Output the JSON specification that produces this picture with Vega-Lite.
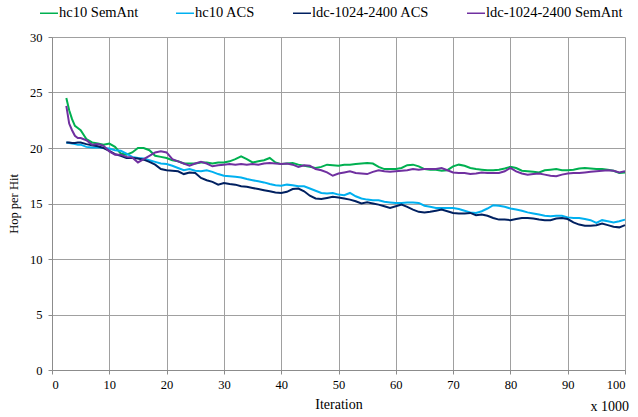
{
  "$schema": "https://vega.github.io/schema/vega-lite/v6.json",
  "width": 573,
  "height": 333,
  "autosize": {"type": "none"},
  "padding": {"left": 52, "top": 37, "right": 13, "bottom": 47},
  "background": "white",
  "config": {
    "font": "Liberation Serif",
    "view": {"stroke": null},
    "title": {"font": "Liberation Serif", "fontWeight": "normal", "fontSize": 14, "color": "black"}
  },
  "title": {"text": "x 1000", "orient": "bottom", "anchor": "end", "offset": -12, "font": "Liberation Serif", "fontSize": 14, "fontWeight": "normal", "color": "black"},
  "data": {
    "values": [
      {"Iteration": 2.5, "hc10 SemAnt": 24.5, "hc10 ACS": 20.5, "ldc-1024-2400 ACS": 20.5, "ldc-1024-2400 SemAnt": 23.8},
      {"Iteration": 3, "hc10 SemAnt": 23.4, "hc10 ACS": 20.45, "ldc-1024-2400 ACS": 20.5, "ldc-1024-2400 SemAnt": 22.2},
      {"Iteration": 3.5, "hc10 SemAnt": 22.6, "hc10 ACS": 20.4, "ldc-1024-2400 ACS": 20.45, "ldc-1024-2400 SemAnt": 21.6},
      {"Iteration": 4, "hc10 SemAnt": 22.0, "hc10 ACS": 20.35, "ldc-1024-2400 ACS": 20.45, "ldc-1024-2400 SemAnt": 21.1},
      {"Iteration": 4.5, "hc10 SemAnt": 21.8, "hc10 ACS": 20.3, "ldc-1024-2400 ACS": 20.5, "ldc-1024-2400 SemAnt": 20.9},
      {"Iteration": 5, "hc10 SemAnt": 21.6, "hc10 ACS": 20.3, "ldc-1024-2400 ACS": 20.5, "ldc-1024-2400 SemAnt": 20.9},
      {"Iteration": 6, "hc10 SemAnt": 20.8, "hc10 ACS": 20.1, "ldc-1024-2400 ACS": 20.35, "ldc-1024-2400 SemAnt": 20.7},
      {"Iteration": 7, "hc10 SemAnt": 20.5, "hc10 ACS": 20.05, "ldc-1024-2400 ACS": 20.25, "ldc-1024-2400 SemAnt": 20.3},
      {"Iteration": 8, "hc10 SemAnt": 20.4, "hc10 ACS": 20.05, "ldc-1024-2400 ACS": 20.15, "ldc-1024-2400 SemAnt": 20.35},
      {"Iteration": 9, "hc10 SemAnt": 20.3, "hc10 ACS": 20.0, "ldc-1024-2400 ACS": 20.0, "ldc-1024-2400 SemAnt": 20.2},
      {"Iteration": 10, "hc10 SemAnt": 20.4, "hc10 ACS": 19.95, "ldc-1024-2400 ACS": 19.75, "ldc-1024-2400 SemAnt": 19.7},
      {"Iteration": 11, "hc10 SemAnt": 20.1, "hc10 ACS": 19.8, "ldc-1024-2400 ACS": 19.45, "ldc-1024-2400 SemAnt": 19.4},
      {"Iteration": 12, "hc10 SemAnt": 19.5, "hc10 ACS": 19.75, "ldc-1024-2400 ACS": 19.3, "ldc-1024-2400 SemAnt": 19.4},
      {"Iteration": 13, "hc10 SemAnt": 19.4, "hc10 ACS": 19.5, "ldc-1024-2400 ACS": 19.1, "ldc-1024-2400 SemAnt": 19.2},
      {"Iteration": 14, "hc10 SemAnt": 19.6, "hc10 ACS": 19.2, "ldc-1024-2400 ACS": 19.1, "ldc-1024-2400 SemAnt": 19.15},
      {"Iteration": 15, "hc10 SemAnt": 20.0, "hc10 ACS": 19.1, "ldc-1024-2400 ACS": 19.05, "ldc-1024-2400 SemAnt": 18.7},
      {"Iteration": 16, "hc10 SemAnt": 20.0, "hc10 ACS": 19.05, "ldc-1024-2400 ACS": 18.95, "ldc-1024-2400 SemAnt": 19.0},
      {"Iteration": 17, "hc10 SemAnt": 19.8, "hc10 ACS": 18.9, "ldc-1024-2400 ACS": 18.75, "ldc-1024-2400 SemAnt": 19.3},
      {"Iteration": 18, "hc10 SemAnt": 19.3, "hc10 ACS": 18.75, "ldc-1024-2400 ACS": 18.5, "ldc-1024-2400 SemAnt": 19.6},
      {"Iteration": 19, "hc10 SemAnt": 19.2, "hc10 ACS": 18.6, "ldc-1024-2400 ACS": 18.1, "ldc-1024-2400 SemAnt": 19.7},
      {"Iteration": 20, "hc10 SemAnt": 19.1, "hc10 ACS": 18.55, "ldc-1024-2400 ACS": 18.0, "ldc-1024-2400 SemAnt": 19.6},
      {"Iteration": 21, "hc10 SemAnt": 18.9, "hc10 ACS": 18.4, "ldc-1024-2400 ACS": 17.95, "ldc-1024-2400 SemAnt": 19.0},
      {"Iteration": 22, "hc10 SemAnt": 18.8, "hc10 ACS": 18.2, "ldc-1024-2400 ACS": 17.9, "ldc-1024-2400 SemAnt": 18.8},
      {"Iteration": 23, "hc10 SemAnt": 18.6, "hc10 ACS": 18.0, "ldc-1024-2400 ACS": 17.65, "ldc-1024-2400 SemAnt": 18.6},
      {"Iteration": 24, "hc10 SemAnt": 18.6, "hc10 ACS": 18.1, "ldc-1024-2400 ACS": 17.8, "ldc-1024-2400 SemAnt": 18.4},
      {"Iteration": 25, "hc10 SemAnt": 18.6, "hc10 ACS": 17.95, "ldc-1024-2400 ACS": 17.75, "ldc-1024-2400 SemAnt": 18.6},
      {"Iteration": 26, "hc10 SemAnt": 18.7, "hc10 ACS": 17.9, "ldc-1024-2400 ACS": 17.3, "ldc-1024-2400 SemAnt": 18.75},
      {"Iteration": 27, "hc10 SemAnt": 18.7, "hc10 ACS": 18.0, "ldc-1024-2400 ACS": 17.1, "ldc-1024-2400 SemAnt": 18.6},
      {"Iteration": 28, "hc10 SemAnt": 18.6, "hc10 ACS": 17.85, "ldc-1024-2400 ACS": 16.95, "ldc-1024-2400 SemAnt": 18.35},
      {"Iteration": 29, "hc10 SemAnt": 18.7, "hc10 ACS": 17.65, "ldc-1024-2400 ACS": 16.7, "ldc-1024-2400 SemAnt": 18.45},
      {"Iteration": 30, "hc10 SemAnt": 18.7, "hc10 ACS": 17.5, "ldc-1024-2400 ACS": 16.85, "ldc-1024-2400 SemAnt": 18.5},
      {"Iteration": 31, "hc10 SemAnt": 18.8, "hc10 ACS": 17.45, "ldc-1024-2400 ACS": 16.75, "ldc-1024-2400 SemAnt": 18.55},
      {"Iteration": 32, "hc10 SemAnt": 19.0, "hc10 ACS": 17.4, "ldc-1024-2400 ACS": 16.7, "ldc-1024-2400 SemAnt": 18.5},
      {"Iteration": 33, "hc10 SemAnt": 19.25, "hc10 ACS": 17.35, "ldc-1024-2400 ACS": 16.55, "ldc-1024-2400 SemAnt": 18.55},
      {"Iteration": 34, "hc10 SemAnt": 19.0, "hc10 ACS": 17.2, "ldc-1024-2400 ACS": 16.5, "ldc-1024-2400 SemAnt": 18.5},
      {"Iteration": 35, "hc10 SemAnt": 18.7, "hc10 ACS": 17.1, "ldc-1024-2400 ACS": 16.4, "ldc-1024-2400 SemAnt": 18.55},
      {"Iteration": 36, "hc10 SemAnt": 18.8, "hc10 ACS": 17.0, "ldc-1024-2400 ACS": 16.3, "ldc-1024-2400 SemAnt": 18.5},
      {"Iteration": 37, "hc10 SemAnt": 18.9, "hc10 ACS": 16.9, "ldc-1024-2400 ACS": 16.2, "ldc-1024-2400 SemAnt": 18.6},
      {"Iteration": 38, "hc10 SemAnt": 19.1, "hc10 ACS": 16.75, "ldc-1024-2400 ACS": 16.1, "ldc-1024-2400 SemAnt": 18.65},
      {"Iteration": 39, "hc10 SemAnt": 18.7, "hc10 ACS": 16.65, "ldc-1024-2400 ACS": 16.0, "ldc-1024-2400 SemAnt": 18.6},
      {"Iteration": 40, "hc10 SemAnt": 18.55, "hc10 ACS": 16.6, "ldc-1024-2400 ACS": 15.95, "ldc-1024-2400 SemAnt": 18.55},
      {"Iteration": 41, "hc10 SemAnt": 18.6, "hc10 ACS": 16.7, "ldc-1024-2400 ACS": 16.05, "ldc-1024-2400 SemAnt": 18.6},
      {"Iteration": 42, "hc10 SemAnt": 18.65, "hc10 ACS": 16.65, "ldc-1024-2400 ACS": 16.3, "ldc-1024-2400 SemAnt": 18.5},
      {"Iteration": 43, "hc10 SemAnt": 18.5, "hc10 ACS": 16.55, "ldc-1024-2400 ACS": 16.35, "ldc-1024-2400 SemAnt": 18.3},
      {"Iteration": 44, "hc10 SemAnt": 18.4, "hc10 ACS": 16.55, "ldc-1024-2400 ACS": 16.1, "ldc-1024-2400 SemAnt": 18.45},
      {"Iteration": 45, "hc10 SemAnt": 18.3, "hc10 ACS": 16.35, "ldc-1024-2400 ACS": 15.7, "ldc-1024-2400 SemAnt": 18.4},
      {"Iteration": 46, "hc10 SemAnt": 18.2, "hc10 ACS": 16.15, "ldc-1024-2400 ACS": 15.45, "ldc-1024-2400 SemAnt": 18.1},
      {"Iteration": 47, "hc10 SemAnt": 18.3, "hc10 ACS": 15.95, "ldc-1024-2400 ACS": 15.4, "ldc-1024-2400 SemAnt": 18.0},
      {"Iteration": 48, "hc10 SemAnt": 18.5, "hc10 ACS": 15.9, "ldc-1024-2400 ACS": 15.5, "ldc-1024-2400 SemAnt": 17.8},
      {"Iteration": 49, "hc10 SemAnt": 18.45, "hc10 ACS": 15.95, "ldc-1024-2400 ACS": 15.6, "ldc-1024-2400 SemAnt": 17.5},
      {"Iteration": 50, "hc10 SemAnt": 18.4, "hc10 ACS": 15.8, "ldc-1024-2400 ACS": 15.55, "ldc-1024-2400 SemAnt": 17.7},
      {"Iteration": 51, "hc10 SemAnt": 18.5, "hc10 ACS": 15.75, "ldc-1024-2400 ACS": 15.45, "ldc-1024-2400 SemAnt": 17.8},
      {"Iteration": 52, "hc10 SemAnt": 18.5, "hc10 ACS": 15.95, "ldc-1024-2400 ACS": 15.35, "ldc-1024-2400 SemAnt": 17.9},
      {"Iteration": 53, "hc10 SemAnt": 18.55, "hc10 ACS": 15.65, "ldc-1024-2400 ACS": 15.2, "ldc-1024-2400 SemAnt": 17.75},
      {"Iteration": 54, "hc10 SemAnt": 18.6, "hc10 ACS": 15.45, "ldc-1024-2400 ACS": 15.0, "ldc-1024-2400 SemAnt": 17.7},
      {"Iteration": 55, "hc10 SemAnt": 18.65, "hc10 ACS": 15.35, "ldc-1024-2400 ACS": 15.1, "ldc-1024-2400 SemAnt": 17.65},
      {"Iteration": 56, "hc10 SemAnt": 18.6, "hc10 ACS": 15.3, "ldc-1024-2400 ACS": 15.0, "ldc-1024-2400 SemAnt": 17.85},
      {"Iteration": 57, "hc10 SemAnt": 18.3, "hc10 ACS": 15.3, "ldc-1024-2400 ACS": 14.9, "ldc-1024-2400 SemAnt": 18.0},
      {"Iteration": 58, "hc10 SemAnt": 18.1, "hc10 ACS": 15.15, "ldc-1024-2400 ACS": 14.75, "ldc-1024-2400 SemAnt": 17.9},
      {"Iteration": 59, "hc10 SemAnt": 18.1, "hc10 ACS": 15.1, "ldc-1024-2400 ACS": 14.6, "ldc-1024-2400 SemAnt": 17.85},
      {"Iteration": 60, "hc10 SemAnt": 18.1, "hc10 ACS": 15.05, "ldc-1024-2400 ACS": 14.75, "ldc-1024-2400 SemAnt": 17.9},
      {"Iteration": 61, "hc10 SemAnt": 18.2, "hc10 ACS": 15.05, "ldc-1024-2400 ACS": 14.9, "ldc-1024-2400 SemAnt": 17.95},
      {"Iteration": 62, "hc10 SemAnt": 18.45, "hc10 ACS": 15.1, "ldc-1024-2400 ACS": 14.7, "ldc-1024-2400 SemAnt": 18.0},
      {"Iteration": 63, "hc10 SemAnt": 18.5, "hc10 ACS": 15.1, "ldc-1024-2400 ACS": 14.45, "ldc-1024-2400 SemAnt": 18.1},
      {"Iteration": 64, "hc10 SemAnt": 18.35, "hc10 ACS": 15.05, "ldc-1024-2400 ACS": 14.25, "ldc-1024-2400 SemAnt": 18.05},
      {"Iteration": 65, "hc10 SemAnt": 18.1, "hc10 ACS": 14.8, "ldc-1024-2400 ACS": 14.2, "ldc-1024-2400 SemAnt": 18.1},
      {"Iteration": 66, "hc10 SemAnt": 18.05, "hc10 ACS": 14.7, "ldc-1024-2400 ACS": 14.25, "ldc-1024-2400 SemAnt": 18.1},
      {"Iteration": 67, "hc10 SemAnt": 18.05, "hc10 ACS": 14.6, "ldc-1024-2400 ACS": 14.35, "ldc-1024-2400 SemAnt": 18.1},
      {"Iteration": 68, "hc10 SemAnt": 17.95, "hc10 ACS": 14.6, "ldc-1024-2400 ACS": 14.45, "ldc-1024-2400 SemAnt": 18.2},
      {"Iteration": 69, "hc10 SemAnt": 18.0, "hc10 ACS": 14.6, "ldc-1024-2400 ACS": 14.3, "ldc-1024-2400 SemAnt": 18.0},
      {"Iteration": 70, "hc10 SemAnt": 18.35, "hc10 ACS": 14.6, "ldc-1024-2400 ACS": 14.15, "ldc-1024-2400 SemAnt": 17.8},
      {"Iteration": 71, "hc10 SemAnt": 18.5, "hc10 ACS": 14.5, "ldc-1024-2400 ACS": 14.1, "ldc-1024-2400 SemAnt": 17.75},
      {"Iteration": 72, "hc10 SemAnt": 18.4, "hc10 ACS": 14.35, "ldc-1024-2400 ACS": 14.1, "ldc-1024-2400 SemAnt": 17.75},
      {"Iteration": 73, "hc10 SemAnt": 18.2, "hc10 ACS": 14.2, "ldc-1024-2400 ACS": 14.15, "ldc-1024-2400 SemAnt": 17.65},
      {"Iteration": 74, "hc10 SemAnt": 18.1, "hc10 ACS": 14.15, "ldc-1024-2400 ACS": 13.95, "ldc-1024-2400 SemAnt": 17.7},
      {"Iteration": 75, "hc10 SemAnt": 18.05, "hc10 ACS": 14.3, "ldc-1024-2400 ACS": 14.0, "ldc-1024-2400 SemAnt": 17.8},
      {"Iteration": 76, "hc10 SemAnt": 18.0, "hc10 ACS": 14.55, "ldc-1024-2400 ACS": 13.9, "ldc-1024-2400 SemAnt": 17.75},
      {"Iteration": 77, "hc10 SemAnt": 18.0, "hc10 ACS": 14.85, "ldc-1024-2400 ACS": 13.7, "ldc-1024-2400 SemAnt": 17.75},
      {"Iteration": 78, "hc10 SemAnt": 18.05, "hc10 ACS": 14.8, "ldc-1024-2400 ACS": 13.55, "ldc-1024-2400 SemAnt": 17.75},
      {"Iteration": 79, "hc10 SemAnt": 18.15, "hc10 ACS": 14.7, "ldc-1024-2400 ACS": 13.55, "ldc-1024-2400 SemAnt": 17.9},
      {"Iteration": 80, "hc10 SemAnt": 18.3, "hc10 ACS": 14.55, "ldc-1024-2400 ACS": 13.5, "ldc-1024-2400 SemAnt": 18.2},
      {"Iteration": 81, "hc10 SemAnt": 18.2, "hc10 ACS": 14.45, "ldc-1024-2400 ACS": 13.6, "ldc-1024-2400 SemAnt": 17.9},
      {"Iteration": 82, "hc10 SemAnt": 17.95, "hc10 ACS": 14.35, "ldc-1024-2400 ACS": 13.7, "ldc-1024-2400 SemAnt": 17.7},
      {"Iteration": 83, "hc10 SemAnt": 17.9, "hc10 ACS": 14.2, "ldc-1024-2400 ACS": 13.7, "ldc-1024-2400 SemAnt": 17.6},
      {"Iteration": 84, "hc10 SemAnt": 17.85, "hc10 ACS": 14.1, "ldc-1024-2400 ACS": 13.65, "ldc-1024-2400 SemAnt": 17.65},
      {"Iteration": 85, "hc10 SemAnt": 17.8, "hc10 ACS": 14.0, "ldc-1024-2400 ACS": 13.55, "ldc-1024-2400 SemAnt": 17.7},
      {"Iteration": 86, "hc10 SemAnt": 18.0, "hc10 ACS": 13.9, "ldc-1024-2400 ACS": 13.5, "ldc-1024-2400 SemAnt": 17.6},
      {"Iteration": 87, "hc10 SemAnt": 18.05, "hc10 ACS": 13.85, "ldc-1024-2400 ACS": 13.5, "ldc-1024-2400 SemAnt": 17.5},
      {"Iteration": 88, "hc10 SemAnt": 18.1, "hc10 ACS": 13.9, "ldc-1024-2400 ACS": 13.65, "ldc-1024-2400 SemAnt": 17.45},
      {"Iteration": 89, "hc10 SemAnt": 18.0, "hc10 ACS": 13.9, "ldc-1024-2400 ACS": 13.7, "ldc-1024-2400 SemAnt": 17.6},
      {"Iteration": 90, "hc10 SemAnt": 18.0, "hc10 ACS": 13.75, "ldc-1024-2400 ACS": 13.6, "ldc-1024-2400 SemAnt": 17.7},
      {"Iteration": 91, "hc10 SemAnt": 18.05, "hc10 ACS": 13.7, "ldc-1024-2400 ACS": 13.3, "ldc-1024-2400 SemAnt": 17.75},
      {"Iteration": 92, "hc10 SemAnt": 18.15, "hc10 ACS": 13.7, "ldc-1024-2400 ACS": 13.1, "ldc-1024-2400 SemAnt": 17.75},
      {"Iteration": 93, "hc10 SemAnt": 18.2, "hc10 ACS": 13.6, "ldc-1024-2400 ACS": 13.0, "ldc-1024-2400 SemAnt": 17.8},
      {"Iteration": 94, "hc10 SemAnt": 18.15, "hc10 ACS": 13.5, "ldc-1024-2400 ACS": 13.0, "ldc-1024-2400 SemAnt": 17.85},
      {"Iteration": 95, "hc10 SemAnt": 18.1, "hc10 ACS": 13.25, "ldc-1024-2400 ACS": 13.05, "ldc-1024-2400 SemAnt": 17.9},
      {"Iteration": 96, "hc10 SemAnt": 18.1, "hc10 ACS": 13.5, "ldc-1024-2400 ACS": 13.2, "ldc-1024-2400 SemAnt": 17.95},
      {"Iteration": 97, "hc10 SemAnt": 18.05, "hc10 ACS": 13.4, "ldc-1024-2400 ACS": 13.05, "ldc-1024-2400 SemAnt": 18.0},
      {"Iteration": 98, "hc10 SemAnt": 17.95, "hc10 ACS": 13.3, "ldc-1024-2400 ACS": 12.9, "ldc-1024-2400 SemAnt": 17.95},
      {"Iteration": 99, "hc10 SemAnt": 17.75, "hc10 ACS": 13.4, "ldc-1024-2400 ACS": 12.85, "ldc-1024-2400 SemAnt": 17.8},
      {"Iteration": 100, "hc10 SemAnt": 17.8, "hc10 ACS": 13.55, "ldc-1024-2400 ACS": 13.05, "ldc-1024-2400 SemAnt": 17.9}
    ]
  },
  "transform": [
    {"fold": ["hc10 SemAnt", "hc10 ACS", "ldc-1024-2400 ACS", "ldc-1024-2400 SemAnt"], "as": ["Series", "Hop per Hit"]}
  ],
  "mark": {"type": "line", "strokeWidth": 2, "interpolate": "linear"},
  "encoding": {
    "x": {
      "field": "Iteration",
      "type": "quantitative",
      "scale": {"domain": [0, 100], "nice": false},
      "axis": {
        "values": [0, 10, 20, 30, 40, 50, 60, 70, 80, 90, 100],
        "title": "Iteration",
        "titleFont": "Liberation Serif",
        "titleFontSize": 14,
        "titleFontWeight": "normal",
        "titleColor": "black",
        "titlePadding": 7,
        "labelFont": "Liberation Serif",
        "labelFontSize": 12.5,
        "labelColor": "black",
        "labelPadding": 4,
        "tickSize": 4,
        "tickColor": "#8c8c8c",
        "domainColor": "#8c8c8c",
        "gridColor": "#a0a0a0",
        "grid": true
      }
    },
    "y": {
      "field": "Hop per Hit",
      "type": "quantitative",
      "scale": {"domain": [0, 30], "nice": false, "zero": true},
      "axis": {
        "values": [0, 5, 10, 15, 20, 25, 30],
        "title": "Hop per Hit",
        "titleFont": "Liberation Serif",
        "titleFontSize": 12.5,
        "titleFontWeight": "normal",
        "titleColor": "black",
        "titlePadding": 9,
        "labelFont": "Liberation Serif",
        "labelFontSize": 12.5,
        "labelColor": "black",
        "labelPadding": 6,
        "tickSize": 4,
        "tickColor": "#8c8c8c",
        "domainColor": "#8c8c8c",
        "gridColor": "#a0a0a0",
        "grid": true
      }
    },
    "color": {
      "field": "Series",
      "type": "nominal",
      "scale": {
        "domain": ["hc10 SemAnt", "hc10 ACS", "ldc-1024-2400 ACS", "ldc-1024-2400 SemAnt"],
        "range": ["#00B050", "#00B0F0", "#002060", "#7030A0"]
      },
      "legend": {
        "title": null,
        "orient": "none",
        "direction": "horizontal",
        "legendX": -13,
        "legendY": -34,
        "symbolType": "stroke",
        "symbolSize": 324,
        "symbolStrokeWidth": 1.5,
        "labelOffset": 0,
        "labelFont": "Liberation Serif",
        "labelFontSize": 14.5,
        "labelColor": "black",
        "columnPadding": 34
      }
    }
  }
}
